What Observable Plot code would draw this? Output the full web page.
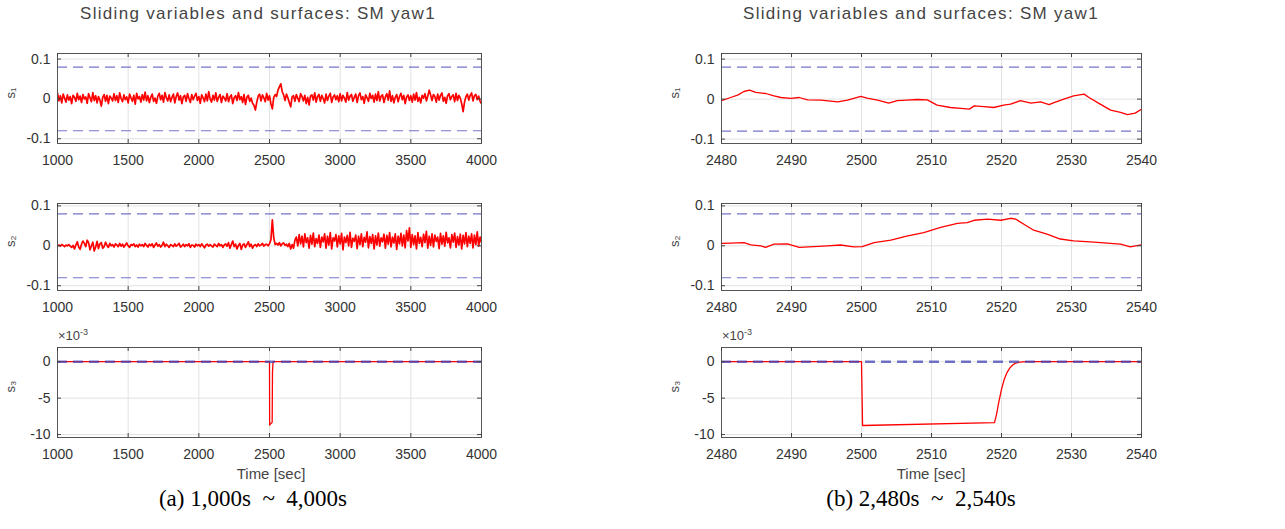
<!DOCTYPE html>
<html>
<head>
<meta charset="utf-8">
<script src="https://cdn.jsdelivr.net/npm/d3@7"></script>
<script src="https://cdn.jsdelivr.net/npm/@observablehq/plot@0.6"></script>
<style>
  html, body { margin: 0; padding: 0; background: #fff; }
  #root { position: relative; width: 1285px; height: 529px; overflow: hidden; font-family: "Liberation Sans", Arial, sans-serif; }
  .abs { position: absolute; white-space: pre; line-height: 1.1; }
  .title { font-size: 17px; letter-spacing: 1.3px; color: #444; transform: translateX(-50%); }
  .xlab { font-size: 15px; color: #444; transform: translateX(-50%); }
  .cap { font-family: "Liberation Serif", "Times New Roman", serif; font-size: 23px; color: #000; transform: translateX(-50%); }
  .exp { font-size: 13px; color: #444; }
  .exp sup { font-size: 9px; }
  svg { position: absolute; }
</style>
</head>
<body>
<div id="root"></div>
<script>
// ---------------- data ----------------
const titleText = "Sliding variables and surfaces: SM yaw1";
const captionLeft = "(a) 1,000s  ~  4,000s";
const captionRight = "(b) 2,480s  ~  2,540s";
const xLabel = "Time [sec]";

const xTicksLeft = [1000, 1500, 2000, 2500, 3000, 3500, 4000];
const xTicksRight = [2480, 2490, 2500, 2510, 2520, 2530, 2540];
const yTicksS = [-0.1, 0, 0.1];
const yTicksS3 = [-10, -5, 0];
const guidesS = [-0.08, 0.08];
const guidesS3 = [0];

// left column sample times (every 10 s, 1000..4000)
const tLeft = d3.range(1000, 4001, 10);

// s1, left column, in units of 1e-3
const s1Left = [
  15,-5,8,-10,12,2,-8,10,-3,6,
  -12,9,4,-6,14,-2,7,-9,11,0,
  5,-11,13,3,-7,16,-4,8,-10,6,
  -3,-18,4,11,-6,9,-12,7,2,-5,
  13,-4,8,-9,15,1,-7,10,-2,5,
  -10,12,3,-6,9,-13,14,0,6,-8,
  11,-3,17,-5,8,-9,4,12,-6,2,
  -11,7,14,-2,9,-8,16,3,-5,10,
  -7,4,12,-10,6,15,-3,8,-12,5,
  9,-6,13,1,-9,11,-2,7,14,-4,
  6,-11,10,3,-7,12,-5,18,0,-8,
  9,-3,15,-6,4,11,-9,7,2,-5,
  13,-7,5,10,-12,3,8,-4,16,-2,
  6,-9,11,-14,4,9,-6,2,-11,-16,
  -28,-8,7,12,-5,10,3,-7,14,-3,
  8,-12,-25,4,11,6,22,30,38,18,
  10,-4,12,3,-9,-20,5,8,-6,11,
  2,-7,13,6,-5,9,-12,4,-15,7,
  10,-3,15,-8,6,11,-6,9,1,-10,
  12,-4,7,14,-9,5,10,-2,8,-7,
  13,-5,9,2,-8,16,-3,7,11,-6,
  4,12,-9,8,15,-2,6,-11,10,3,
  -6,14,1,9,-8,12,-4,18,-5,7,
  10,-9,5,13,-3,20,-6,8,-10,4,
  11,-7,6,14,-2,9,-12,5,10,-4,
  8,-8,12,-3,16,-6,4,-10,9,2,
  13,-5,7,22,10,-4,11,6,-8,12,
  -3,9,15,-6,4,-11,8,13,-2,6,
  10,-7,14,-4,9,2,-12,-32,-8,6,
  12,-3,9,15,-5,8,11,-2,7,-6,
  -12
];

// s2, left column, in units of 1e-3
const s2Left = [
  0,2,-1,3,1,-2,2,0,3,-1,
  -4,1,-8,2,10,-3,-9,4,12,6,
  -2,14,8,-10,0,9,-13,-3,11,-7,
  5,8,-6,-2,9,1,-4,6,0,3,
  -3,5,2,-2,6,-1,4,-3,2,7,
  0,-4,3,1,5,-2,2,-3,4,0,
  3,-2,6,1,-3,4,0,5,-4,2,
  7,-1,3,-3,1,9,-2,4,0,-4,
  3,1,-2,5,-1,2,6,-3,0,4,
  -2,3,0,5,-4,2,1,-3,4,0,
  3,-2,5,0,-5,2,4,-1,3,0,
  -3,4,1,-2,6,0,3,-4,2,5,
  -1,8,-6,3,12,-2,4,-8,1,6,
  -9,2,5,-4,3,10,-2,4,-6,1,
  3,-2,5,0,2,6,-1,3,4,0,
  5,15,65,20,3,6,2,8,0,5,
  7,1,4,-2,6,-8,3,-6,14,22,
  0,28,5,24,-3,30,8,20,-6,26,
  4,32,-2,18,6,27,-4,22,10,30,
  -6,24,2,33,-8,20,12,28,-3,25,
  5,31,-10,22,8,26,0,34,-4,19,
  11,27,-7,24,3,30,-2,21,9,35,
  -5,23,6,28,-8,25,2,32,-1,20,
  10,29,-6,26,4,33,-3,22,7,30,
  -9,24,5,31,0,27,-5,38,12,45,
  -4,28,3,25,-8,33,6,21,-2,29,
  8,36,-6,24,1,30,-3,27,11,22,
  -7,31,4,25,-1,34,7,20,-5,28,
  9,32,-4,23,2,29,-8,26,5,33,
  -2,24,6,30,-5,27,3,35,-1,22,
  8
];

// s3, left column (units of 1e-3)
const s3LeftT = [1000, 2500, 2501, 2519, 2521, 2525, 4000];
const s3LeftV = [0, 0, -8.7, -8.3, -1.5, 0, 0];

// s1, right column
const s1RightT = [2480,2481.3,2482.3,2483.2,2484,2484.9,2486.3,2487.5,2488.5,2489.9,2491.1,2492.3,2494.2,2496.6,2498,2499.9,2500.8,2502.3,2503.9,2505.1,2506.5,2508,2509.4,2510.8,2512.7,2514.2,2515.4,2516.1,2517.5,2518.9,2520.3,2521.3,2522.7,2524.2,2525.6,2526.8,2527.5,2528.9,2530.3,2531.8,2532.5,2534.1,2535.6,2537,2538,2539.1,2540];
const s1RightV = [-0.004,0.004,0.01,0.019,0.0225,0.017,0.014,0.008,0.004,0.002,0.004,-0.002,-0.0025,-0.007,-0.0025,0.007,0.0025,-0.0025,-0.01,-0.004,-0.0025,-0.001,-0.002,-0.015,-0.021,-0.023,-0.025,-0.017,-0.019,-0.021,-0.015,-0.0125,-0.004,-0.01,-0.007,-0.014,-0.009,0,0.008,0.0125,0.004,-0.0125,-0.0275,-0.033,-0.039,-0.035,-0.025];

// s2, right column
const s2RightT = [2480,2481.3,2483.2,2484.2,2485.6,2486.3,2487.5,2489.4,2490.4,2491.1,2493.2,2495.1,2497,2498.9,2500.1,2501.8,2504.2,2506.6,2508.9,2511.3,2513.7,2515.1,2516.1,2518,2519.9,2521.3,2522,2523.2,2524.6,2526.5,2528.4,2530.3,2532.7,2535.1,2537,2538.4,2540];
const s2RightV = [0.006,0.0067,0.008,0.0025,0,-0.004,0.004,0.005,0,-0.004,-0.002,0,0.002,-0.0025,-0.002,0.008,0.014,0.025,0.033,0.046,0.056,0.058,0.064,0.067,0.064,0.069,0.067,0.054,0.039,0.029,0.017,0.0125,0.01,0.0067,0.004,-0.0025,0.0025];

// s3, right column (units of 1e-3)
const s3RightT = [2480,2500,2500.15,2519,2519.3,2519.6,2520,2520.4,2520.8,2521.2,2521.6,2522,2522.6,2523.5,2540];
const s3RightV = [0,0,-8.75,-8.35,-7.2,-5.6,-3.8,-2.4,-1.45,-0.85,-0.45,-0.2,-0.05,0,0];

// ---------------- drawing ----------------
const root = document.getElementById("root");
const ML = 60, MR = 40, MT = 10, MB = 34;

function panel({t, v, scale = 1, xDomain, xTicks, yDomain, yTicks, guides, guideWidth = 1.2, lineWidth = 1.3, label, fx, fy, fw, fh}) {
  const data = t.map((d, i) => ({t: d, v: v[i] * scale}));
  const svg = Plot.plot({
    width: fw + ML + MR,
    height: fh + MT + MB,
    marginLeft: ML, marginRight: MR, marginTop: MT, marginBottom: MB,
    style: {fontFamily: "Liberation Sans, Arial, sans-serif", background: "transparent"},
    x: {domain: xDomain, axis: null},
    y: {domain: yDomain, axis: null},
    marks: [
      Plot.gridX(xTicks, {stroke: "#e2e2e2", strokeOpacity: 1}),
      Plot.gridY(yTicks, {stroke: "#e2e2e2", strokeOpacity: 1}),
      Plot.line(data, {x: "t", y: "v", stroke: "#ff0000", strokeWidth: lineWidth, clip: true}),
      Plot.ruleY(guides, {stroke: "#4646b4", strokeOpacity: 0.75, strokeWidth: guideWidth, strokeDasharray: "10,6"}),
      Plot.frame({stroke: "#555"}),
      Plot.ruleX(xTicks, {stroke: "#444", insetTop: fh - 4}),
      Plot.ruleX(xTicks, {stroke: "#444", insetBottom: fh - 4}),
      Plot.ruleY(yTicks, {stroke: "#444", insetRight: fw - 4}),
      Plot.ruleY(yTicks, {stroke: "#444", insetLeft: fw - 4}),
      Plot.axisX(xTicks, {tickSize: 0, tickPadding: 12, fontSize: 14, fill: "#333", tickFormat: d => String(d), label: null}),
      Plot.axisY(yTicks, {tickSize: 0, tickPadding: 7, fontSize: 14, fill: "#333", tickFormat: d => String(d), label: null}),
      Plot.text([label], {frameAnchor: "left", dx: -47, rotate: -90, fontSize: 13, fill: "#444"})
    ]
  });
  svg.style.left = (fx - ML) + "px";
  svg.style.top = (fy - MT) + "px";
  root.appendChild(svg);
}

const rows = [
  {fy: 53, fh: 90},
  {fy: 203, fh: 87},
  {fy: 347, fh: 90}
];
const cols = [
  {fx: 57, fw: 424, xDomain: [1000, 4000], xTicks: xTicksLeft},
  {fx: 721, fw: 420, xDomain: [2480, 2540], xTicks: xTicksRight}
];

// left column
panel({...cols[0], ...rows[0], t: tLeft, v: s1Left, scale: 0.001, lineWidth: 1.7, yDomain: [-0.112, 0.114], yTicks: yTicksS, guides: guidesS, label: "s₁"});
panel({...cols[0], ...rows[1], t: tLeft, v: s2Left, scale: 0.001, lineWidth: 1.7, yDomain: [-0.112, 0.106], yTicks: yTicksS, guides: guidesS, label: "s₂"});
panel({...cols[0], ...rows[2], t: s3LeftT, v: s3LeftV, yDomain: [-10.4, 1.95], yTicks: yTicksS3, guides: guidesS3, guideWidth: 2.5, label: "s₃"});
// right column
panel({...cols[1], ...rows[0], t: s1RightT, v: s1RightV, yDomain: [-0.111, 0.114], yTicks: yTicksS, guides: guidesS, label: "s₁"});
panel({...cols[1], ...rows[1], t: s2RightT, v: s2RightV, yDomain: [-0.112, 0.106], yTicks: yTicksS, guides: guidesS, label: "s₂"});
panel({...cols[1], ...rows[2], t: s3RightT, v: s3RightV, yDomain: [-10.4, 1.95], yTicks: yTicksS3, guides: guidesS3, guideWidth: 2.5, label: "s₃"});

function addText(cls, html, x, y) {
  const d = document.createElement("div");
  d.className = "abs " + cls;
  d.innerHTML = html;
  d.style.left = x + "px";
  d.style.top = y + "px";
  root.appendChild(d);
}
addText("title", titleText, 258, 5);
addText("title", titleText, 921, 5);
addText("exp", "×10<sup>-3</sup>", 58, 328);
addText("exp", "×10<sup>-3</sup>", 722, 328);
addText("xlab", xLabel, 271, 466);
addText("xlab", xLabel, 931, 466);
addText("cap", captionLeft, 253, 486);
addText("cap", captionRight, 921, 486);
</script>
</body>
</html>
